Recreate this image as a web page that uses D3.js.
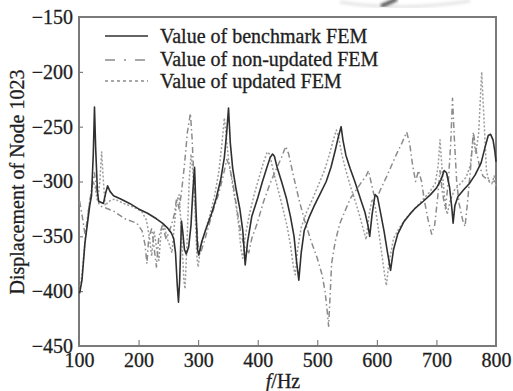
<!DOCTYPE html>
<html><head><meta charset="utf-8">
<script src="https://cdn.jsdelivr.net/npm/d3@7"></script>
<style>
html,body{margin:0;padding:0;background:#fff;}
svg{display:block;}
text{font-family:"Liberation Serif","Times New Roman",serif;fill:#1e1e1e;stroke:#1e1e1e;stroke-width:0.3px;}
</style></head>
<body>
<svg id="c" width="513" height="391"></svg>
<script>
// ---- data (frequency Hz, displacement) ----
const xTicks = [100,200,300,400,500,600,700,800];
const yTicks = [-150,-200,-250,-300,-350,-400,-450];
const seriesNames = ["Value of benchmark FEM","Value of non-updated FEM","Value of updated FEM"];

const benchmark = [[101,-402],[105,-390],[110,-356],[118,-322],[121,-313],[124,-275],[126,-232],[128,-270],[131,-310],[133,-318],[141,-320],[145,-310],[148,-304],[152,-309],[158,-313],[170,-316],[185,-320],[200,-325],[215,-329],[230,-334],[240,-338],[248,-342],[255,-347],[259,-352],[262,-365],[265,-395],[267,-410],[269,-390],[272,-336],[274,-345],[277,-362],[280,-366],[284,-360],[288,-340],[291,-310],[294,-287],[296,-320],[299,-362],[301,-367],[306,-355],[314,-342],[322,-330],[330,-316],[338,-298],[344,-278],[348,-255],[351,-233],[354,-265],[358,-288],[364,-308],[370,-325],[375,-345],[379,-376],[383,-355],[390,-332],[400,-315],[408,-300],[415,-288],[421,-278],[425,-275],[428,-277],[433,-288],[440,-300],[448,-315],[455,-332],[461,-350],[465,-372],[469,-390],[473,-365],[478,-345],[486,-333],[495,-322],[505,-311],[515,-300],[523,-287],[530,-272],[536,-258],[540,-250],[543,-262],[548,-276],[555,-288],[563,-300],[572,-315],[580,-328],[585,-340],[588,-350],[592,-330],[597,-312],[601,-314],[606,-328],[612,-345],[618,-365],[623,-381],[628,-362],[635,-348],[645,-337],[655,-330],[665,-324],[678,-318],[690,-312],[700,-306],[708,-298],[713,-290],[717,-292],[722,-305],[726,-325],[728,-338],[731,-322],[736,-314],[745,-308],[755,-302],[765,-294],[775,-283],[782,-268],[787,-258],[791,-257],[795,-262],[798,-272],[800,-282]];

const nonUpdated = [[101,-318],[105,-330],[110,-348],[114,-335],[118,-318],[122,-305],[126,-292],[130,-310],[134,-322],[144,-324],[158,-327],[177,-334],[197,-338],[206,-345],[211,-358],[214,-375],[217,-352],[222,-343],[226,-360],[230,-378],[234,-350],[240,-340],[246,-352],[250,-348],[255,-340],[260,-330],[264,-315],[268,-325],[272,-310],[277,-285],[282,-255],[287,-238],[290,-262],[293,-300],[296,-330],[300,-358],[304,-365],[310,-355],[318,-340],[326,-325],[334,-312],[342,-295],[348,-280],[352,-285],[358,-300],[365,-325],[372,-348],[378,-360],[385,-365],[390,-352],[398,-340],[410,-318],[420,-303],[430,-290],[440,-278],[447,-268],[452,-275],[460,-295],[470,-318],[480,-338],[490,-355],[500,-370],[508,-385],[513,-400],[517,-420],[519,-432],[521,-410],[524,-375],[530,-355],[538,-338],[548,-325],[556,-315],[565,-308],[575,-300],[582,-295],[586,-290],[590,-300],[595,-312],[600,-315],[608,-305],[616,-296],[625,-285],[633,-275],[642,-265],[650,-255],[655,-265],[660,-285],[665,-300],[670,-290],[675,-300],[680,-318],[686,-335],[692,-348],[697,-340],[702,-315],[706,-290],[710,-310],[715,-325],[720,-300],[724,-265],[727,-224],[730,-260],[734,-300],[738,-320],[744,-335],[748,-341],[752,-320],[757,-290],[762,-255],[766,-270],[772,-285],[778,-295],[785,-298],[792,-300],[800,-300]];

const updated = [[101,-400],[105,-385],[110,-355],[116,-325],[120,-312],[124,-300],[127,-305],[131,-318],[135,-300],[138,-273],[141,-300],[144,-322],[150,-318],[160,-316],[175,-320],[190,-323],[205,-327],[213,-335],[218,-350],[222,-368],[226,-345],[230,-360],[234,-372],[238,-345],[243,-340],[248,-352],[252,-358],[256,-365],[260,-340],[264,-318],[268,-312],[272,-345],[276,-390],[278,-398],[281,-360],[285,-300],[288,-275],[291,-290],[295,-330],[298,-370],[300,-378],[304,-360],[312,-345],[320,-330],[328,-312],[335,-290],[340,-265],[344,-242],[347,-258],[351,-280],[357,-300],[363,-320],[368,-340],[372,-362],[375,-370],[379,-350],[386,-330],[395,-310],[403,-295],[410,-282],[416,-273],[420,-275],[426,-290],[433,-305],[441,-322],[449,-340],[455,-358],[460,-378],[463,-385],[467,-362],[473,-342],[482,-328],[492,-316],[502,-303],[512,-290],[520,-276],[527,-262],[532,-253],[536,-260],[541,-275],[548,-290],[556,-305],[565,-320],[573,-335],[578,-345],[582,-353],[587,-330],[592,-316],[597,-322],[603,-345],[608,-365],[613,-385],[616,-395],[620,-375],[628,-352],[638,-342],[650,-333],[662,-326],[675,-318],[688,-310],[698,-302],[703,-285],[706,-262],[709,-285],[713,-312],[718,-330],[723,-318],[730,-308],[740,-302],[750,-296],[757,-285],[762,-258],[766,-275],[771,-255],[776,-200],[780,-245],[784,-290],[788,-300],[793,-302],[797,-295],[800,-305]];

// ---- layout ----
const svg = d3.select("#c");
const L = 79, R = 496, T = 17, B = 346;
const x = d3.scaleLinear().domain([100,800]).range([L,R]);
const y = d3.scaleLinear().domain([-450,-150]).range([B,T]);

// scan artifact at top
const defs = svg.append("defs");
defs.append("filter").attr("id","blur").append("feGaussianBlur").attr("stdDeviation",1.5);
svg.append("path").attr("d","M340,2 Q400,12 470,1").attr("fill","none")
  .attr("stroke","#e4e4e4").attr("stroke-width",3).attr("filter","url(#blur)");
svg.append("path").attr("d","M381,6 Q389,3 397,-1").attr("fill","none")
  .attr("stroke","#555").attr("stroke-width",4).attr("filter","url(#blur)");

// axes
const fs = 20;
const gx = svg.append("g").attr("transform",`translate(0,${B})`)
  .call(d3.axisBottom(x).tickValues(xTicks).tickSizeInner(-6).tickSizeOuter(0).tickPadding(7));
gx.select(".domain").remove();
gx.selectAll("line").attr("stroke","#666").attr("stroke-width",1);
gx.selectAll("text").attr("font-size",fs).attr("fill","#1e1e1e")
  .attr("font-family","Liberation Serif, Times New Roman, serif");

const gy = svg.append("g").attr("transform",`translate(${L},0)`)
  .call(d3.axisLeft(y).tickValues(yTicks).tickSizeInner(-4).tickSizeOuter(0).tickPadding(6)
    .tickFormat(d => "\u2212" + Math.abs(d)));
gy.select(".domain").remove();
gy.selectAll("line").attr("stroke","#666").attr("stroke-width",1);
gy.selectAll("text").attr("font-size",fs).attr("fill","#1e1e1e")
  .attr("font-family","Liberation Serif, Times New Roman, serif");

// frame
svg.append("rect").attr("x",L).attr("y",T).attr("width",R-L).attr("height",B-T)
  .attr("fill","none").attr("stroke","#7a7a7a").attr("stroke-width",2);

// lines
const line = d3.line().x(d => x(d[0])).y(d => y(d[1]));
const styles = [
  {data: benchmark, stroke:"#303030", w:1.6, dash:null},
  {data: nonUpdated, stroke:"#8c8c8c", w:1.5, dash:"6,3,1.5,3"},
  {data: updated, stroke:"#9c9c9c", w:1.5, dash:"2,2"}
];
[2,1,0].forEach(i => {
  const s = styles[i];
  svg.append("path").datum(s.data).attr("d",line).attr("fill","none")
    .attr("stroke",s.stroke).attr("stroke-width",s.w)
    .attr("stroke-dasharray",s.dash).attr("stroke-linejoin","round");
});

// legend
const legY = [36,60,81], legTxt = [43,66,88];
const legDash = [null,"10,9,2,9","3,3"];
seriesNames.forEach((n,i) => {
  svg.append("line").attr("x1",105).attr("x2",148).attr("y1",legY[i]).attr("y2",legY[i])
    .attr("stroke", i===0 ? "#303030" : "#8a8a8a").attr("stroke-width",1.5)
    .attr("stroke-dasharray",legDash[i]);
  svg.append("text").attr("x",160).attr("y",legTxt[i]).attr("font-size",fs).text(n);
});

// axis titles
svg.append("text").attr("transform",`translate(24,182) rotate(-90)`)
  .attr("text-anchor","middle").attr("font-size",fs).text("Displacement of Node 1023");
const xt = svg.append("text").attr("x",283).attr("y",388).attr("text-anchor","middle").attr("font-size",fs);
xt.append("tspan").attr("font-style","italic").text("f");
xt.append("tspan").text("/Hz");
</script>
</body></html>
